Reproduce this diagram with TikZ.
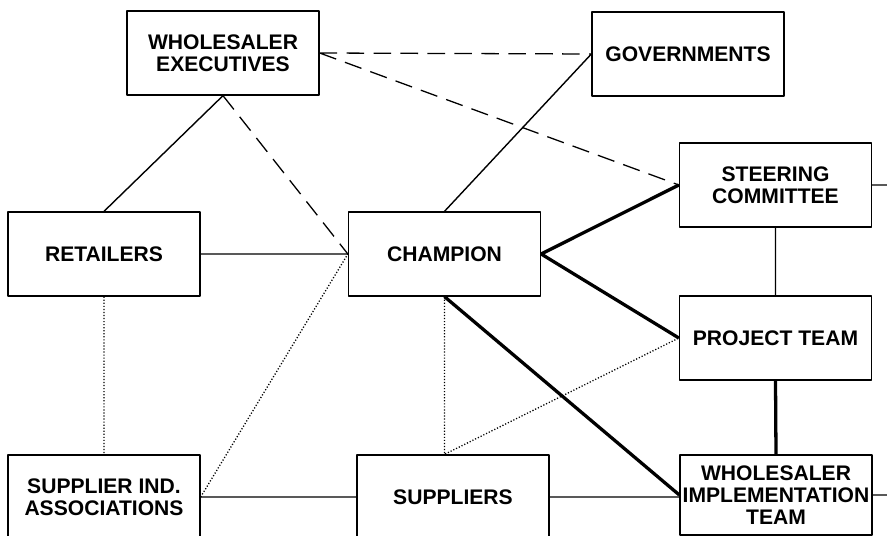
\documentclass[tikz,border=0pt]{standalone}
\usepackage{fontspec}
\setmainfont{Liberation Sans}
\begin{document}
\begin{tikzpicture}[x=0.03cm,y=-0.03cm,line join=round,
    box/.style={draw,line width=1.1pt,minimum width=5.76cm,minimum height=2.52cm,inner sep=1pt,align=center,font=\fontsize{18}{18.5}\selectfont\bfseries},
    plainlink/.style={line width=1.2pt},
    stronglink/.style={line width=2.8pt},
    dashlink/.style={line width=1.1pt,dash pattern=on 15pt off 8pt},
    dotlink/.style={line width=1.1pt,dash pattern=on 1pt off 1.6pt}]
  \fill[white] (0,0) rectangle (887,536);
  \clip (0,0) rectangle (887,536);
  %% the boxes
  \node[box] (exec) at (223,53) {WHOLESALER\\EXECUTIVES};
  \node[box] (gov) at (688,54) {GOVERNMENTS};
  \node[box] (steer) at (775.5,185) {STEERING\\COMMITTEE};
  \node[box] (retail) at (104,254) {RETAILERS};
  \node[box] (champ) at (444.5,254) {CHAMPION};
  \node[box] (proj) at (775.5,338) {PROJECT TEAM};
  \node[box] (assoc) at (104,497) {SUPPLIER IND.\\ASSOCIATIONS};
  \node[box] (suppl) at (453,497) {SUPPLIERS};
  \node[box,minimum height=2.4cm] (impl) at (776,495) {WHOLESALER\\IMPLEMENTATION\\TEAM};
  \coordinate (edge) at (895,0);
  %% links
  \draw[plainlink] (exec.south)--(retail.north) (retail.east)--(champ.west)
    (champ.north)--(gov.west) (assoc.east)--(suppl.west) (suppl.east)--(suppl.east-|impl.west)
    (steer.south)--(proj.north) (steer.east)--(steer.east-|edge) (impl.east)--(impl.east-|edge);
  \draw[dashlink] (exec.east)--(gov.west) (exec.east)--(steer.west) (exec.south)--(champ.west);
  \draw[stronglink] (champ.east)--(steer.west) (champ.east)--(proj.west)
    (champ.south)--(impl.west) (proj.south)--(impl.north);
  \draw[dotlink] (retail.south)--(assoc.north) (assoc.east)--(champ.west)
    (champ.south)--(champ.south|-suppl.north)--(proj.west);
\end{tikzpicture}
\end{document}
